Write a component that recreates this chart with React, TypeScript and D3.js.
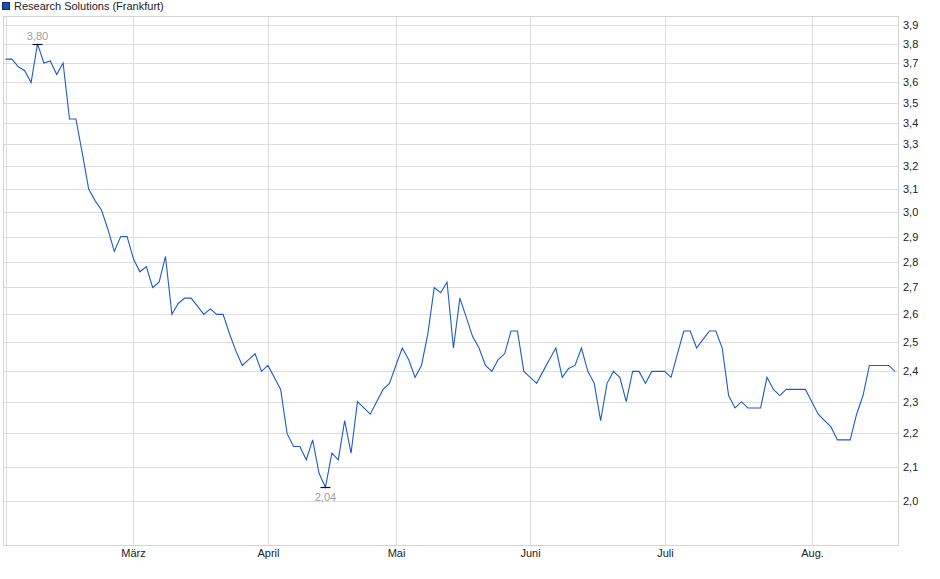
import React, { useEffect, useRef } from 'react';
import * as d3 from 'd3';

// Schlusskurse (Handelstage Feb - Aug)
const prices: number[] = [
  3.72, 3.72, 3.68, 3.66, 3.6, 3.8, 3.7, 3.71, 3.64, 3.7,
  3.42, 3.42, 3.26, 3.1, 3.05, 3.01, 2.93, 2.84, 2.9, 2.9,
  2.81, 2.76, 2.78, 2.7, 2.72, 2.82, 2.6, 2.64, 2.66, 2.66,
  2.63, 2.6, 2.62, 2.6, 2.6, 2.53, 2.47, 2.42, 2.44, 2.46,
  2.4, 2.42, 2.38, 2.34, 2.2, 2.16, 2.16, 2.12, 2.18, 2.08,
  2.04, 2.14, 2.12, 2.24, 2.14, 2.3, 2.28, 2.26, 2.3, 2.34,
  2.36, 2.42, 2.48, 2.44, 2.38, 2.42, 2.53, 2.7, 2.68, 2.72,
  2.48, 2.66, 2.59, 2.52, 2.48, 2.42, 2.4, 2.44, 2.46, 2.54,
  2.54, 2.4, 2.38, 2.36, 2.4, 2.44, 2.48, 2.38, 2.41, 2.42,
  2.48, 2.4, 2.36, 2.24, 2.36, 2.4, 2.38, 2.3, 2.4, 2.4,
  2.36, 2.4, 2.4, 2.4, 2.38, 2.46, 2.54, 2.54, 2.48, 2.51,
  2.54, 2.54, 2.48, 2.32, 2.28, 2.3, 2.28, 2.28, 2.28, 2.38,
  2.34, 2.32, 2.34, 2.34, 2.34, 2.34, 2.3, 2.26, 2.24, 2.22,
  2.18, 2.18, 2.18, 2.26, 2.32, 2.42, 2.42, 2.42, 2.42, 2.4,
];

// erster Handelstag je Monat (Index in prices)
const monthLabels = ['März', 'April', 'Mai', 'Juni', 'Juli', 'Aug.'];
const monthStart = [20, 41, 61, 82, 103, 126];

const yTicks = d3.range(20, 40).map((d) => d / 10);

const seriesName = 'Research Solutions (Frankfurt)';

const W = 940;
const H = 579;
const FONT = '"Liberation Sans", Arial, sans-serif';

const Chart: React.FC = () => {
  const svgRef = useRef<SVGSVGElement | null>(null);

  useEffect(() => {
    if (!svgRef.current) return;
    const svg = d3.select(svgRef.current);
    svg.selectAll('*').remove();

    const plot = { left: 3.5, right: 898.5, top: 16.5, bottom: 545.5 };

    const x = d3.scaleLinear().domain([0, prices.length - 1]).range([5.5, 895]);
    const y = d3.scaleLog().domain([1.881, 3.952]).range([545, 16]);
    const fmt = (v: number) => v.toFixed(1).replace('.', ',');

    // Gitter
    const grid = svg.append('g').attr('stroke', '#dddddd').attr('stroke-width', 1);
    yTicks.forEach((t) => {
      const yy = Math.round(y(t)) + 0.5;
      grid.append('line').attr('x1', plot.left).attr('x2', plot.right).attr('y1', yy).attr('y2', yy);
    });
    [0, ...monthStart].forEach((i) => {
      const xx = Math.round(x(i)) + 0.5;
      grid.append('line').attr('x1', xx).attr('x2', xx).attr('y1', plot.top).attr('y2', plot.bottom);
    });

    // Rahmen
    svg
      .append('rect')
      .attr('x', plot.left)
      .attr('y', plot.top)
      .attr('width', plot.right - plot.left)
      .attr('height', plot.bottom - plot.top)
      .attr('fill', 'none')
      .attr('stroke', '#d4d4d4');

    // y Achse rechts
    svg
      .append('g')
      .selectAll('text')
      .data(yTicks)
      .enter()
      .append('text')
      .attr('x', 903)
      .attr('y', (d) => y(d) + 4)
      .attr('font-family', FONT)
      .attr('font-size', 11)
      .attr('fill', '#222')
      .text((d) => fmt(d));

    // x Achse
    svg
      .append('g')
      .selectAll('text')
      .data(monthStart)
      .enter()
      .append('text')
      .attr('x', (d) => Math.round(x(d)) + 0.5)
      .attr('y', 557)
      .attr('text-anchor', 'middle')
      .attr('font-family', FONT)
      .attr('font-size', 11)
      .attr('fill', '#222')
      .text((_, i) => monthLabels[i]);

    // Kurslinie
    const line = d3
      .line<number>()
      .x((_, i) => x(i))
      .y((d) => y(d));
    svg
      .append('path')
      .datum(prices)
      .attr('fill', 'none')
      .attr('stroke', '#1f5bc6')
      .attr('stroke-width', 1.1)
      .attr('d', line);

    // Hoch / Tief
    const hiIdx = d3.maxIndex(prices);
    const loIdx = d3.minIndex(prices);
    const marks = [
      { i: hiIdx, dy: -5 },
      { i: loIdx, dy: 13 },
    ];
    marks.forEach((m) => {
      const xx = x(m.i);
      const yy = Math.round(y(prices[m.i])) + 0.5;
      svg
        .append('line')
        .attr('x1', xx - 5)
        .attr('x2', xx + 5)
        .attr('y1', yy)
        .attr('y2', yy)
        .attr('stroke', '#111')
        .attr('stroke-width', 1.2);
      svg
        .append('text')
        .attr('x', xx)
        .attr('y', yy + m.dy)
        .attr('text-anchor', 'middle')
        .attr('font-family', FONT)
        .attr('font-size', 11)
        .attr('fill', '#a0a0a0')
        .text(prices[m.i].toFixed(2).replace('.', ','));
    });

    // Legende
    svg
      .append('rect')
      .attr('x', 2.5)
      .attr('y', 2.5)
      .attr('width', 7)
      .attr('height', 7)
      .attr('fill', '#1d4fa8')
      .attr('stroke', '#0c2a66');
    svg
      .append('text')
      .attr('x', 14)
      .attr('y', 10)
      .attr('font-family', FONT)
      .attr('font-size', 11)
      .attr('fill', '#222')
      .text(seriesName);
  }, []);

  return (
    <svg
      ref={svgRef}
      width={W}
      height={H}
      style={{ position: 'absolute', left: 0, top: 0, background: '#fff' }}
    />
  );
};

export default function App() {
  return <Chart />;
}
